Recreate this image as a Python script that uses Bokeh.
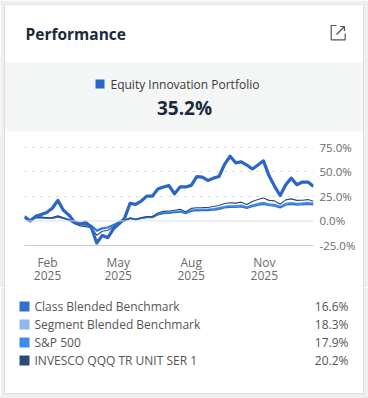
import datetime as dt
from bokeh.plotting import figure
from bokeh.models import Range1d, FixedTicker, PrintfTickFormatter, Span
from bokeh.core.properties import value
from bokeh.embed import file_html
from bokeh.resources import INLINE

# ---------------- data ----------------
portfolio_name = "Equity Innovation Portfolio"
start_date = dt.datetime(2025, 1, 3)
n_weeks = 53
dates = [start_date + dt.timedelta(weeks=i) for i in range(n_weeks)]

portfolio = [4.7, 0.0, 4.7, 6.7, 8.7, 13.0, 21.0, 11.0, 6.0, -1.3, -3.0, -1.3, -6.3,
             -22.5, -14.7, -17.0, -8.0, -3.0, 2.7, 18.0, 17.0, 20.3, 25.3, 25.3, 32.7,
             34.7, 36.0, 27.7, 34.7, 34.7, 36.3, 45.3, 44.7, 41.3, 43.7, 45.3, 57.7,
             66.0, 59.3, 60.3, 57.0, 53.0, 57.0, 61.3, 46.0, 35.3, 26.0, 37.0, 43.7,
             37.0, 39.7, 39.7, 35.2]
class_blended = [3.0, 1.0, 3.3, 3.4, 2.8, 2.8, 4.0, 2.8, 1.2, -1.5, -3.3, -3.8, -4.5,
                 -9.5, -7.3, -6.5, -4.0, -1.2, 0.6, 2.6, 1.4, 2.6, 3.5, 3.5, 6.2,
                 7.6, 7.8, 8.5, 9.2, 7.5, 9.8, 10.5, 10.6, 10.7, 11.2, 12.0, 13.3,
                 14.0, 13.9, 14.5, 12.8, 14.6, 16.0, 17.0, 15.6, 15.2, 13.3, 16.2, 17.0,
                 16.3, 16.5, 17.1, 16.6]
segment_blended = [3.0, 1.2, 3.6, 3.8, 3.2, 3.2, 4.6, 3.3, 1.5, -1.2, -3.0, -3.5, -4.2,
                   -9.0, -6.8, -6.0, -3.5, -0.8, 1.0, 3.2, 2.0, 3.3, 4.3, 4.3, 7.2,
                   8.6, 8.8, 9.6, 10.3, 8.6, 11.0, 11.7, 11.9, 12.0, 12.6, 13.5, 14.9,
                   15.6, 15.5, 16.2, 14.4, 16.3, 17.8, 18.8, 17.3, 16.9, 15.0, 17.9, 18.8,
                   18.0, 18.3, 18.9, 18.3]
sp500 = [3.0, 0.8, 3.5, 3.6, 3.0, 3.0, 4.3, 3.0, 1.2, -1.8, -3.6, -4.2, -5.0,
         -10.5, -8.0, -7.0, -4.5, -1.5, 0.5, 2.8, 1.5, 2.8, 3.8, 3.8, 6.8,
         8.3, 8.5, 9.3, 10.0, 8.2, 10.8, 11.5, 11.6, 11.7, 12.3, 13.2, 14.6,
         15.3, 15.2, 15.9, 14.0, 16.0, 17.5, 18.6, 17.0, 16.6, 14.5, 17.6, 18.5,
         17.7, 18.0, 18.6, 17.9]
qqq = [3.0, -0.5, 3.8, 4.0, 3.2, 3.5, 5.2, 3.2, 0.8, -2.8, -5.0, -5.8, -6.8,
       -14.5, -10.5, -9.5, -5.8, -2.2, 0.0, 3.0, 1.5, 3.2, 4.5, 4.5, 8.2,
       9.8, 10.0, 11.0, 12.0, 9.5, 12.8, 13.5, 13.6, 13.8, 14.8, 15.8, 17.8,
       18.5, 18.2, 19.2, 16.8, 19.8, 21.8, 23.5, 21.0, 20.5, 17.0, 21.5, 22.5,
       21.0, 21.2, 21.8, 20.2]

bench_names = ["Class Blended Benchmark", "Segment Blended Benchmark", "S&P 500",
               "INVESCO QQQ TR UNIT SER 1"]
bench_series = [class_blended, segment_blended, sp500, qqq]
bench_final = [16.6, 18.3, 17.9, 20.2]
bench_colors = ["#3170d2", "#8cb7f2", "#3b8cf0", "#2c4a76"]
portfolio_color = "#2a66c8"

y_ticks = [-25, 0, 25, 50, 75]
x_tick_dates = [dt.datetime(2025, 2, 1), dt.datetime(2025, 5, 1),
                dt.datetime(2025, 8, 1), dt.datetime(2025, 11, 1)]
x_tick_labels = ["Feb\n2025", "May\n2025", "Aug\n2025", "Nov\n2025"]

FONT = value("Open Sans")
W = 368
OUTER = "#efefef"
EDGE = "#dddddd"


def blank(h):
    return figure(width=W, height=h, x_range=Range1d(0, W), y_range=Range1d(h, 0),
                  x_axis_type=None, y_axis_type=None, output_backend="svg",
                  toolbar_location=None, min_border=0, outline_line_color=None,
                  background_fill_color="white", border_fill_color="white")


# ---------------- header ----------------
H1 = 136
hd = blank(H1)
hd.quad(left=[0, 0, 363], right=[W, 4, W], top=[0, 0, 0], bottom=[4, H1, H1],
        fill_color=OUTER, line_color=None)
hd.segment(x0=[4, 363], y0=[4, 4], x1=[4, 363], y1=[H1, H1], line_color=EDGE, line_width=1)
hd.segment(x0=[4], y0=[4], x1=[363], y1=[4], line_color="#e6e6e6", line_width=1)
hd.quad(left=[4.5], right=[362.5], top=[62], bottom=[131], fill_color="#f4f5f5", line_color=None)
hd.text(x=[25], y=[33], text=["Performance"], text_font=FONT, text_font_size="15.5px",
        text_font_style="bold", text_color="#1b2a3a", text_baseline="middle", text_align="left")
hd.multi_line(xs=[[336, 330.7, 330.7, 344.7, 344.7], [336, 344], [339.5, 344, 344]],
              ys=[[25, 25, 39.3, 39.3, 33], [34, 26], [26, 26, 30.5]],
              line_color="#555555", line_width=1.2)
hd.scatter(x=[99.5], y=[83.5], marker="square", size=9, fill_color=portfolio_color, line_color=None)
hd.text(x=[110], y=[84], text=[portfolio_name], text_font=FONT, text_font_size="12px",
        text_color="#3a3a3a", text_baseline="middle", text_align="left")
hd.text(x=[184], y=[107], text=[f"{portfolio[-1]:.1f}%"], text_font=FONT, text_font_size="19px",
        text_font_style="bold", text_color="#1b2a3a", text_baseline="middle", text_align="center")

# ---------------- chart ----------------
H2 = 151
side_bg = ("linear-gradient(to right, #efefef 0px, #efefef 4px, #dddddd 4px, #dddddd 5px, "
           "#ffffff 5px, #ffffff 363px, #dddddd 363px, #dddddd 364px, #efefef 364px, #efefef 368px)")
p = figure(width=W, height=H2, x_axis_type="datetime", y_axis_location="right",
           x_range=Range1d(dates[0], dates[-1]), y_range=Range1d(-25, 80),
           output_backend="svg", toolbar_location=None,
           min_border_left=24, min_border_right=55, min_border_top=6, min_border_bottom=40,
           outline_line_color=None, background_fill_color="white",
           border_fill_color="white", border_fill_alpha=0,
           styles={"background": side_bg})
p.xgrid.visible = False
p.ygrid.ticker = FixedTicker(ticks=[25, 50, 75])
p.ygrid.grid_line_color = "#cfcfcf"
p.ygrid.grid_line_dash = "2 6"
p.ygrid.grid_line_width = 1
p.add_layout(Span(location=0, dimension="width", line_color="#dedede", line_width=1))

ya = p.yaxis[0]
ya.ticker = FixedTicker(ticks=y_ticks)
ya.formatter = PrintfTickFormatter(format="%.1f%%")
ya.axis_line_color = None
ya.major_tick_line_color = None
ya.minor_tick_line_color = None
ya.major_label_text_font = "Open Sans"
ya.major_label_text_font_size = "11.5px"
ya.major_label_text_color = "#6a6a6a"
ya.major_label_standoff = 0

xa = p.xaxis[0]
tick_ms = [d.replace(tzinfo=dt.timezone.utc).timestamp() * 1000 for d in x_tick_dates]
xa.ticker = FixedTicker(ticks=tick_ms)
xa.major_label_overrides = {int(t): lab for t, lab in zip(tick_ms, x_tick_labels)}
xa.axis_line_color = "#cccccc"
xa.major_tick_line_color = None
xa.minor_tick_line_color = None
xa.major_label_text_font = "Open Sans"
xa.major_label_text_font_size = "12px"
xa.major_label_text_color = "#6a6a6a"
xa.major_label_text_line_height = 0.81
xa.major_label_standoff = 2

for idx in [1, 2, 0, 3]:
    p.line(dates, bench_series[idx], line_color=bench_colors[idx],
           line_width=1.4 if idx != 3 else 1.1)
p.line(dates, portfolio, line_color=portfolio_color, line_width=3.2, line_join="round")

# ---------------- legend ----------------
H3 = 398 - H1 - H2
lg = blank(H3)
lg.quad(left=[0, 363, 0], right=[4, W, W], top=[0, 0, H3 - 5], bottom=[H3, H3, H3],
        fill_color=OUTER, line_color=None)
lg.segment(x0=[4, 363, 4], y0=[0, 0, H3 - 5], x1=[4, 363, 363], y1=[H3 - 5, H3 - 5, H3 - 5],
           line_color=EDGE, line_width=1)
row_y = [19, 37, 55, 73]
lg.scatter(x=[24] * 4, y=row_y, marker="square", size=10, fill_color=bench_colors, line_color=None)
lg.text(x=[34] * 4, y=row_y, text=bench_names, text_font=FONT, text_font_size="12px",
        text_color="#555555", text_baseline="middle", text_align="left")
lg.text(x=[348] * 4, y=row_y, text=[f"{v:.1f}%" for v in bench_final], text_font=FONT,
        text_font_size="12px", text_color="#555555", text_baseline="middle", text_align="right")

open("out.html", "w").write(file_html([hd, p, lg], INLINE))
